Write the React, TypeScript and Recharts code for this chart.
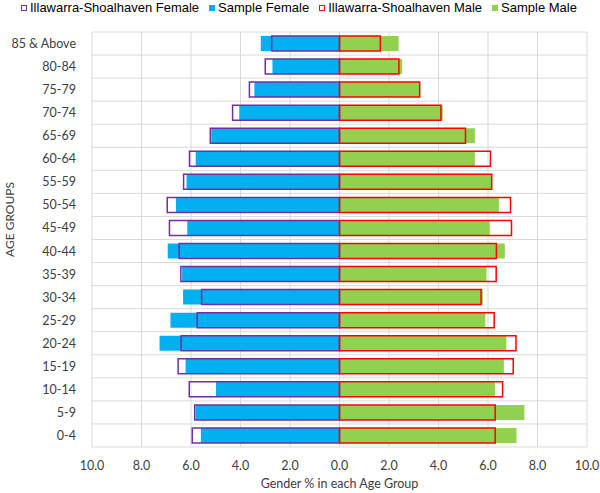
import { BarChart, Bar, XAxis, YAxis, CartesianGrid } from "recharts";

// age groups, top to bottom as in the picture
const ageGroups = [
  "85 & Above", "80-84", "75-79", "70-74", "65-69", "60-64", "55-59", "50-54", "45-49",
  "40-44", "35-39", "30-34", "25-29", "20-24", "15-19", "10-14", "5-9", "0-4",
];

// % of each gender in each age group
const sampleFemale = [3.18, 2.71, 3.44, 4.05, 5.18, 5.81, 6.18, 6.61, 6.15, 6.94, 6.36, 6.32, 6.83, 7.27, 6.22, 4.99, 5.81, 5.6];
const regionFemale = [2.74, 3.0, 3.64, 4.32, 5.22, 6.06, 6.3, 6.96, 6.87, 6.48, 6.41, 5.57, 5.75, 6.4, 6.52, 6.07, 5.85, 5.95];
const sampleMale = [2.39, 2.53, 3.22, 4.17, 5.47, 5.47, 6.14, 6.44, 6.07, 6.68, 5.94, 5.79, 5.89, 6.74, 6.64, 6.28, 7.47, 7.15];
const regionMale = [1.65, 2.4, 3.24, 4.1, 5.09, 6.1, 6.15, 6.91, 6.95, 6.34, 6.33, 5.72, 6.25, 7.13, 7.02, 6.59, 6.29, 6.29];

const xTicks = [-10, -8, -6, -4, -2, 0, 2, 4, 6, 8, 10];

const legendItems = [
  { name: "Illawarra-Shoalhaven Female", color: "#7030A0", outline: true },
  { name: "Sample Female", color: "#00B0F0", outline: false },
  { name: "Illawarra-Shoalhaven Male", color: "#FF0000", outline: true },
  { name: "Sample Male", color: "#92D050", outline: false },
];

const data = ageGroups.map((age, i) => ({
  age,
  sampleFemale: -sampleFemale[i],
  sampleMale: sampleMale[i],
  regionFemale: -regionFemale[i],
  regionMale: regionMale[i],
}));

const font = "Lato, 'Noto Sans', sans-serif";

const AgeTick = ({ x, y, payload }: any) => (
  <text x={x} y={y} dy={4.5} textAnchor="end" fontFamily={font} fontSize={12.5} fill="#404040">
    {payload.value}
  </text>
);

export default function App() {
  return (
    <div style={{ position: "absolute", top: 0, left: 0, width: 600, height: 493, background: "#fff" }}>
      <div
        style={{
          position: "absolute",
          top: 1,
          left: 21,
          zIndex: 2,
          display: "flex",
          gap: 10,
          whiteSpace: "nowrap",
          fontFamily: "'Liberation Sans', Arial, sans-serif",
          fontSize: 13,
          color: "#000",
          lineHeight: "14px",
        }}
      >
        {legendItems.map((item) => (
          <span key={item.name} style={{ display: "flex", alignItems: "center" }}>
            <span
              style={{
                display: "inline-block",
                width: 6,
                height: 6,
                marginRight: 3,
                boxSizing: "border-box",
                background: item.outline ? "#fff" : item.color,
                border: item.outline ? `1.5px solid ${item.color}` : "none",
              }}
            />
            {item.name}
          </span>
        ))}
      </div>
      <BarChart
        width={600}
        height={493}
        data={data}
        layout="vertical"
        stackOffset="sign"
        barSize={15}
        margin={{ top: 32, right: 13, bottom: 0, left: 20 }}
      >
        <CartesianGrid
          stroke="#D9D9D9"
          verticalCoordinatesGenerator={({ offset }: any) =>
            xTicks.map((t) => offset.left + ((t + 10) / 20) * offset.width)
          }
          horizontalCoordinatesGenerator={({ offset }: any) =>
            Array.from({ length: ageGroups.length + 1 }, (_, i) => offset.top + (i * offset.height) / ageGroups.length)
          }
        />
        <XAxis
          type="number"
          domain={[-10, 10]}
          ticks={xTicks}
          tickFormatter={(v: number) => Math.abs(v).toFixed(1)}
          axisLine={false}
          tickLine={false}
          tick={{ fontFamily: font, fontSize: 12.5, fill: "#404040" }}
          tickMargin={8}
          height={46}
          label={{
            value: "Gender % in each Age Group",
            position: "insideBottom",
            offset: 5,
            style: { fontFamily: font, fontSize: 12.5, fill: "#404040" },
          }}
        />
        <YAxis
          yAxisId="cat"
          type="category"
          dataKey="age"
          width={72}
          axisLine={false}
          tickLine={false}
          tick={<AgeTick />}
          tickMargin={10}
          interval={0}
          label={{
            value: "AGE GROUPS",
            angle: -90,
            position: "left",
            offset: 10,
            dy: -20,
            style: { fontFamily: font, fontSize: 12, fill: "#404040", textAnchor: "middle" },
          }}
        />
        <YAxis yAxisId="cat2" type="category" dataKey="age" hide />
        <Bar yAxisId="cat" dataKey="sampleFemale" stackId="s" fill="#00B0F0" isAnimationActive={false} />
        <Bar yAxisId="cat" dataKey="sampleMale" stackId="s" fill="#92D050" isAnimationActive={false} />
        <Bar
          yAxisId="cat2"
          dataKey="regionFemale"
          stackId="r"
          fill="none"
          stroke="#7030A0"
          strokeWidth={1.5}
          isAnimationActive={false}
        />
        <Bar
          yAxisId="cat2"
          dataKey="regionMale"
          stackId="r"
          fill="none"
          stroke="#FF0000"
          strokeWidth={1.5}
          isAnimationActive={false}
        />
      </BarChart>
    </div>
  );
}
